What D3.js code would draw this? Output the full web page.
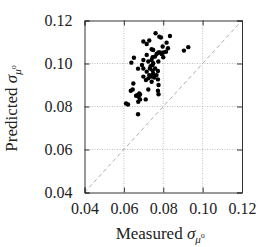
<!DOCTYPE html>
<html>
<head>
<meta charset="utf-8">
<script src="https://cdn.jsdelivr.net/npm/d3@7"></script>
<style>
	body { margin: 0; background: #fff; }
	svg text { font-family: 'Liberation Serif', serif; fill: #222; }
</style>
</head>
<body>
<main></main>
<script>
const measured = [0.0761,0.0780,0.0788,0.0834,0.0699,0.0729,0.0716,0.0817,0.0797,0.0824,
	0.0927,0.0905,0.0741,0.0749,0.0775,0.0783,0.0800,0.0814,0.0766,0.0792,
	0.0716,0.0651,0.0746,0.0800,0.0638,0.0699,0.0724,0.0741,0.0749,0.0775,
	0.0692,0.0746,0.0672,0.0699,0.0732,0.0746,0.0716,0.0749,0.0773,0.0699,
	0.0724,0.0741,0.0749,0.0766,0.0712,0.0741,0.0773,0.0648,0.0776,0.0724,
	0.0773,0.0645,0.0678,0.0682,0.0668,0.0675,0.0662,0.0635,0.0776,0.0682,
	0.0711,0.0611,0.0621,0.0673,0.0672,0.0758,0.0736,0.0759,0.0729,0.0754];
const predicted = [0.1141,0.1125,0.1121,0.1128,0.1102,0.1107,0.1091,0.1097,0.1079,0.1071,
	0.1076,0.1060,0.1066,0.1063,0.1051,0.1051,0.1051,0.1055,0.1044,0.1044,
	0.1040,0.1027,0.1029,0.1029,0.1004,0.1016,0.1009,0.1016,0.1001,0.1009,
	0.0993,0.0993,0.0976,0.0977,0.0977,0.0967,0.0962,0.0954,0.0965,0.0939,
	0.0931,0.0939,0.0946,0.0946,0.0923,0.0915,0.0926,0.0907,0.0900,0.0879,
	0.0873,0.0879,0.0861,0.0856,0.0853,0.0845,0.0850,0.0873,0.0857,0.0833,
	0.0833,0.0814,0.0809,0.0822,0.0764,0.1032,0.0988,0.0977,0.0946,0.0935];
const ticks = [0.04, 0.06, 0.08, 0.10, 0.12];

const w = 274,
	h = 247,
	margin = {top: 20.5, right: 32, bottom: 54.5, left: 84.5};

const svg = d3.select("main")
	.append("svg")
	.attr("width", w)
	.attr("height", h);

const xScale = d3.scaleLinear()
	.domain([0.04, 0.12])
	.range([margin.left, w - margin.right]);
const yScale = d3.scaleLinear()
	.domain([0.04, 0.12])
	.range([h - margin.bottom, margin.top]);

const fmt = d3.format(".2f");

// grid
svg.append("g")
	.selectAll("line")
	.data(ticks.slice(1, -1))
	.enter()
	.append("line")
	.attr("x1", (d) => xScale(d))
	.attr("x2", (d) => xScale(d))
	.attr("y1", margin.top)
	.attr("y2", h - margin.bottom)
	.attr("stroke", "#b0b0b0")
	.attr("stroke-width", 0.8)
	.attr("stroke-dasharray", "1,1.5");
svg.append("g")
	.selectAll("line")
	.data(ticks.slice(1, -1))
	.enter()
	.append("line")
	.attr("x1", margin.left)
	.attr("x2", w - margin.right)
	.attr("y1", (d) => yScale(d))
	.attr("y2", (d) => yScale(d))
	.attr("stroke", "#b0b0b0")
	.attr("stroke-width", 0.8)
	.attr("stroke-dasharray", "1,1.5");

// diagonal
svg.append("line")
	.attr("x1", xScale(0.04))
	.attr("y1", yScale(0.04))
	.attr("x2", xScale(0.12))
	.attr("y2", yScale(0.12))
	.attr("stroke", "#999")
	.attr("stroke-width", 0.8)
	.attr("stroke-dasharray", "4,3");

// axes, ticks inside on all sides
const tl = 5;
svg.append("g")
	.attr("transform", "translate(0," + (h - margin.bottom) + ")")
	.call(d3.axisBottom(xScale).tickValues(ticks).tickSize(-tl).tickFormat(fmt).tickPadding(10));
svg.append("g")
	.attr("transform", "translate(0," + margin.top + ")")
	.call(d3.axisTop(xScale).tickValues(ticks).tickSize(-tl).tickFormat(""));
svg.append("g")
	.attr("transform", "translate(" + margin.left + ",0)")
	.call(d3.axisLeft(yScale).tickValues(ticks).tickSize(-tl).tickFormat(fmt).tickPadding(12));
svg.append("g")
	.attr("transform", "translate(" + (w - margin.right) + ",0)")
	.call(d3.axisRight(yScale).tickValues(ticks).tickSize(-tl).tickFormat(""));

svg.selectAll("g").attr("font-family", "Liberation Serif").attr("font-size", null);
svg.selectAll(".tick text")
	.attr("font-family", "Liberation Serif")
	.style("font-family", "'Liberation Serif'")
	.style("font-size", "16px")
	.attr("fill", "#222");
svg.selectAll(".domain").attr("stroke", "#333");
svg.selectAll(".tick line").attr("stroke", "#333");

// points
svg.append("g")
	.selectAll("circle")
	.data(measured)
	.enter()
	.append("circle")
	.attr("cx", (d) => xScale(d))
	.attr("cy", (d, i) => yScale(predicted[i]))
	.attr("r", 2.2)
	.attr("fill", "#000");

// labels
function sigmaLabel(t, word) {
	t.append("tspan").text(word + " ");
	t.append("tspan").style("font-style", "italic").text("σ");
	t.append("tspan").style("font-style", "italic").style("font-size", "11px").attr("dy", 4).text("μ");
	t.append("tspan").style("font-size", "8px").attr("dy", -5).text("o");
}

const xl = svg.append("text")
	.attr("x", xScale(0.08) - 3)
	.attr("y", 238.5)
	.attr("text-anchor", "middle")
	.style("font-size", "17px");
sigmaLabel(xl, "Measured");

const yl = svg.append("text")
	.attr("transform", "translate(17," + (yScale(0.08) + 2) + ") rotate(-90)")
	.attr("text-anchor", "middle")
	.style("font-size", "17px");
sigmaLabel(yl, "Predicted");
</script>
</body>
</html>
